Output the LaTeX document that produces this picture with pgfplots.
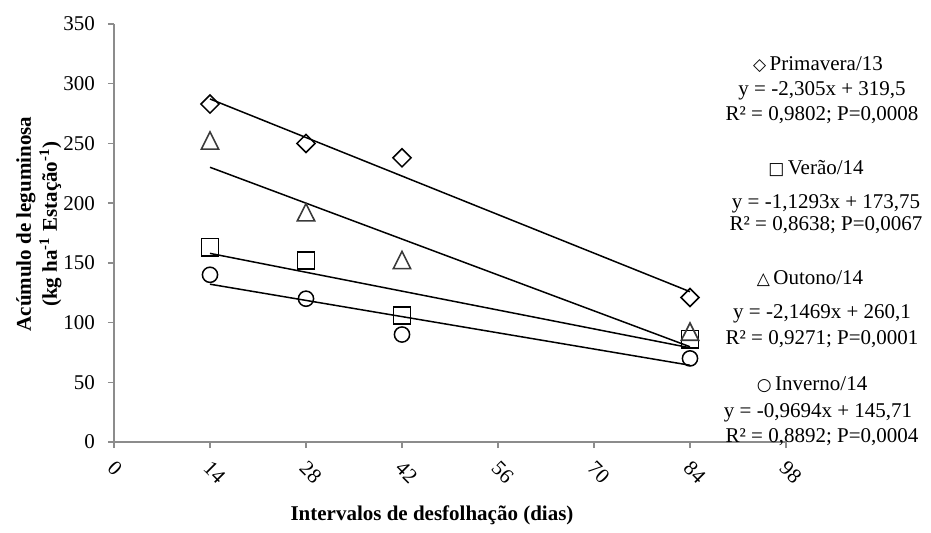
\documentclass[border=0pt]{standalone}
\usepackage{fontspec}
\setmainfont{Liberation Serif}
\newfontfamily\symfont{DejaVu Sans}
\usepackage{pgfplots}
\pgfplotsset{compat=1.18}

\definecolor{axisgray}{HTML}{8C8C8C}
\definecolor{markgray}{HTML}{3A3A3A}

\newcommand{\sym}[1]{{\symfont\bfseries\fontsize{8.5}{9}\selectfont #1}}

\begin{document}
\begin{tikzpicture}[font=\fontsize{10.5}{12.6}\selectfont]
\useasboundingbox (0,0) rectangle (465.5pt,266pt);
\begin{axis}[
  at={(57pt,45pt)}, anchor=south west,
  scale only axis, width=336pt, height=209pt,
  xmin=0, xmax=98, ymin=0, ymax=350,
  axis x line=bottom, axis y line=left,
  axis line style={-, axisgray, line width=0.75pt},
  tick style={axisgray, line width=0.75pt},
  tick align=outside, major tick length=3pt,
  xtick={0,14,...,98}, ytick={0,50,...,350},
  /pgf/number format/assume math mode=true,
  x tick label style={rotate=-45, anchor=west, xshift=1.5pt, yshift=-7pt},
  y tick label style={xshift=-3pt},
  clip=false,
]
% Primavera/13
\addplot[only marks, mark=square, mark size=3.2pt,
  mark options={rotate=45, black, line width=0.75pt}]
  coordinates {(14,283) (28,250) (42,238) (84,121)};
% Verão/14
\addplot[only marks, mark=square, mark size=4.3pt,
  mark options={black, line width=0.75pt}]
  coordinates {(14,163) (28,152) (42,106) (84,86)};
% Outono/14
\addplot[only marks, mark=triangle, mark size=5pt,
  mark options={markgray, line width=0.8pt, yscale=1.15}]
  coordinates {(14,250) (28,190) (42,150) (84,90)};
% Inverno/14
\addplot[only marks, mark=o, mark size=3.8pt,
  mark options={black, line width=0.75pt}]
  coordinates {(14,140) (28,120) (42,90) (84,70)};
% linear fits
\addplot[black, line width=0.75pt] coordinates {(14,287.23) (84,125.88)};
\addplot[black, line width=0.75pt] coordinates {(14,157.94) (84,78.89)};
\addplot[black, line width=0.75pt] coordinates {(14,230.04) (84,79.76)};
\addplot[black, line width=0.75pt] coordinates {(14,132.14) (84,64.28)};
\end{axis}

% axis titles
\node[font=\fontsize{10.5}{12.5}\selectfont\bfseries, rotate=90, align=center]
  at (19.5pt,154pt) {Acúmulo de leguminosa\\[0.5pt](kg ha\textsuperscript{-1} Estação\textsuperscript{-1})};
\node[font=\fontsize{10.5}{12}\selectfont\bfseries] at (216pt,8.5pt)
  {Intervalos de desfolhação (dias)};

% fit equations
\begin{scope}[every node/.style={anchor=base}]
\node at (409pt,231pt) {\sym{◇}\,Primavera/13};
\node at (411pt,218.5pt) {y = -2,305x + 319,5};
\node at (411pt,206pt) {R² = 0,9802; P=0,0008};

\node at (408pt,179pt) {\sym{□}\,Verão/14};
\node at (413pt,162pt) {y = -1,1293x + 173,75};
\node at (413pt,151pt) {R² = 0,8638; P=0,0067};

\node at (405pt,124pt) {\sym{△}\,Outono/14};
\node at (411pt,107pt) {y = -2,1469x + 260,1};
\node at (411pt,94pt) {R² = 0,9271; P=0,0001};

\node at (406pt,71pt) {\sym{○}\,Inverno/14};
\node at (409pt,57.5pt) {y = -0,9694x + 145,71};
\node at (411pt,45pt) {R² = 0,8892; P=0,0004};
\end{scope}
\end{tikzpicture}
\end{document}
